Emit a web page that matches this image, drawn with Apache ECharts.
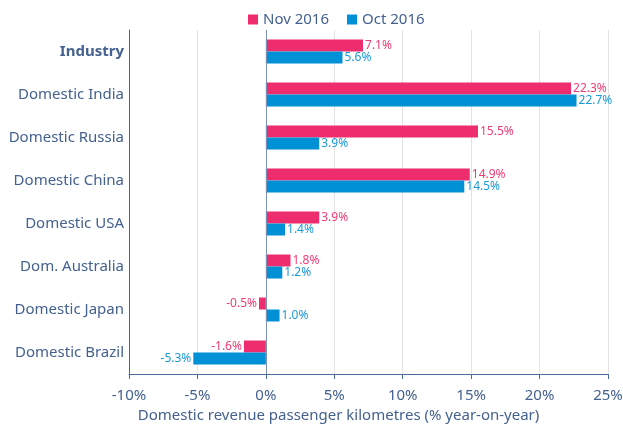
<!DOCTYPE html>
<html>
<head>
<meta charset="utf-8">
<script src="https://cdn.jsdelivr.net/npm/echarts@6/dist/echarts.min.js"></script>
<style>
  html, body { margin: 0; padding: 0; background: #fff; }
  #main { width: 623px; height: 425px; }
</style>
</head>
<body>
<div id="main"></div>
<script>
// 数据
var categories = ['Industry', 'Domestic India', 'Domestic Russia', 'Domestic China',
    'Domestic USA', 'Dom. Australia', 'Domestic Japan', 'Domestic Brazil'];
var nov2016 = [7.1, 22.3, 15.5, 14.9, 3.9, 1.8, -0.5, -1.6];
var oct2016 = [5.6, 22.7, 3.9, 14.5, 1.4, 1.2, 1.0, -5.3];

var textColor = '#44618f';
var axisColor = '#4a6a9a';
var font = 'Noto Sans';

function withLabel(arr) {
    return arr.map(function (v) {
        return { value: v, label: { position: v < 0 ? 'left' : 'right' } };
    });
}

var chart = echarts.init(document.getElementById('main'));

chart.setOption({
    animation: false,
    textStyle: { fontFamily: font },
    legend: {
        top: 7,
        left: 243,
        itemWidth: 10,
        itemHeight: 10,
        itemGap: 18,
        icon: 'rect',
        textStyle: { color: textColor, fontSize: 15, fontFamily: font },
        data: ['Nov 2016', 'Oct 2016']
    },
    grid: { left: 129, right: 15, top: 30, bottom: 51, containLabel: false, outerBoundsMode: 'none' },
    xAxis: {
        type: 'value',
        min: -10,
        max: 25,
        interval: 5,
        name: 'Domestic revenue passenger kilometres (% year-on-year)',
        nameLocation: 'middle',
        nameGap: 33,
        nameTextStyle: { color: textColor, fontSize: 15, fontFamily: font, padding: [0, 60, 0, 0] },
        axisLine: { show: true, lineStyle: { color: axisColor, width: 1 } },
        axisTick: { show: true, length: 5, lineStyle: { color: axisColor } },
        axisLabel: {
            color: textColor, fontSize: 15, fontFamily: font, margin: 14,
            formatter: function (v) { return v + '%'; }
        },
        splitLine: { show: true, lineStyle: { color: '#e3e3e3', width: 1 } }
    },
    yAxis: {
        type: 'category',
        inverse: true,
        data: categories,
        axisLine: { show: true, onZero: false, lineStyle: { color: axisColor, width: 1 } },
        axisTick: { show: false },
        axisLabel: {
            color: textColor, fontSize: 15, fontFamily: font, margin: 5,
            formatter: function (v) { return v === 'Industry' ? '{b|' + v + '}' : v; },
            rich: { b: { fontWeight: 'bold', color: textColor, fontSize: 15, fontFamily: font } }
        }
    },
    series: [
        {
            name: 'Nov 2016',
            type: 'bar',
            barWidth: 12,
            barGap: '0%',
            itemStyle: { color: '#ee2d6f' },
            label: {
                show: true, color: '#ee3d76', fontSize: 12, distance: 2, fontFamily: font,
                formatter: function (p) { return p.value.toFixed(1) + '%'; }
            },
            data: withLabel(nov2016),
            markLine: {
                silent: true,
                symbol: 'none',
                label: { show: false },
                lineStyle: { color: '#7a90b5', type: 'solid', width: 1 },
                data: [{ xAxis: 0 }]
            }
        },
        {
            name: 'Oct 2016',
            type: 'bar',
            barWidth: 12,
            barGap: '0%',
            itemStyle: { color: '#0090d6' },
            label: {
                show: true, color: '#1a9ad9', fontSize: 12, distance: 2, fontFamily: font,
                formatter: function (p) { return p.value.toFixed(1) + '%'; }
            },
            data: withLabel(oct2016)
        }
    ]
});
</script>
</body>
</html>
